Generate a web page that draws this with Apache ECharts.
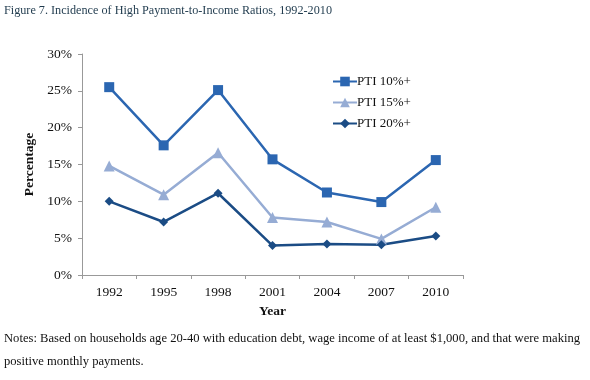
<!DOCTYPE html>
<html><head><meta charset="utf-8">
<script src="https://cdn.jsdelivr.net/npm/echarts@6/dist/echarts.min.js"></script>
<style>html,body{margin:0;padding:0;background:#fff;}#c{width:590px;height:380px;}</style>
</head><body><div id="c"></div>
<script>
const years = ['1992','1995','1998','2001','2004','2007','2010'];
const pti10 = [25.5, 17.6, 25.1, 15.7, 11.2, 9.9, 15.6];
const pti15 = [14.8, 10.9, 16.6, 7.8, 7.2, 4.9, 9.2];
const pti20 = [10.0, 7.2, 11.1, 4.0, 4.2, 4.1, 5.3];
const seriesNames = ['PTI 10%+', 'PTI 15%+', 'PTI 20%+'];
const yTicks = [0, 5, 10, 15, 20, 25, 30];

const FONT = '"Liberation Serif", "Times New Roman", serif';
const colors = ['#2b66b1', '#96acd4', '#1b4c85'];
const chart = echarts.init(document.getElementById('c'), null, {renderer: 'canvas'});
chart.setOption({
  animation: false,
  textStyle: {fontFamily: FONT},
  graphic: [
    {type: 'text', left: 4, top: 5, style: {text: 'Figure 7. Incidence of High Payment-to-Income Ratios, 1992-2010', fill: '#1f3a4d', font: '12.2px ' + FONT}},
    {type: 'text', left: 4, top: 332, style: {text: 'Notes: Based on households age 20-40 with education debt, wage income of at least $1,000, and that were making', fill: '#111', font: '12.6px ' + FONT}},
    {type: 'text', left: 4, top: 355, style: {text: 'positive monthly payments.', fill: '#111', font: '12.6px ' + FONT}}
  ],
  grid: {left: 82, top: 54, width: 381, height: 221},
  legend: {
    orient: 'vertical', left: 327, top: 70, itemWidth: 24, itemHeight: 12, itemGap: 8,
    data: seriesNames,
    textStyle: {fontFamily: FONT, fontSize: 13, color: '#111', padding: [0, 0, 0, -5]}
  },
  xAxis: {
    type: 'category', data: years, boundaryGap: true,
    name: 'Year', nameLocation: 'middle', nameGap: 30,
    nameTextStyle: {fontFamily: FONT, fontSize: 13.5, fontWeight: 'bold', color: '#111'},
    axisLine: {lineStyle: {color: '#999', width: 1}},
    axisTick: {show: true, length: 4, lineStyle: {color: '#999'}},
    axisLabel: {fontFamily: FONT, fontSize: 13.5, color: '#111', margin: 10}
  },
  yAxis: {
    type: 'value', min: yTicks[0], max: yTicks[yTicks.length - 1], interval: 5,
    name: 'Percentage', nameLocation: 'middle', nameGap: 45, nameRotate: 90,
    nameTextStyle: {fontFamily: FONT, fontSize: 13.5, fontWeight: 'bold', color: '#111'},
    axisLine: {show: true, lineStyle: {color: '#999', width: 1}},
    axisTick: {show: true, length: 4, lineStyle: {color: '#999'}},
    splitLine: {show: false},
    axisLabel: {fontFamily: FONT, fontSize: 13.5, color: '#111', margin: 10, formatter: v => v + '%'}
  },
  series: [
    {name: seriesNames[0], type: 'line', data: pti10, symbol: 'rect', symbolSize: 10,
     lineStyle: {width: 2.5, color: colors[0]}, itemStyle: {color: colors[0]}},
    {name: seriesNames[1], type: 'line', data: pti15, symbol: 'triangle', symbolSize: 11,
     lineStyle: {width: 2.5, color: colors[1]}, itemStyle: {color: colors[1]}},
    {name: seriesNames[2], type: 'line', data: pti20, symbol: 'diamond', symbolSize: 9,
     lineStyle: {width: 2.5, color: colors[2]}, itemStyle: {color: colors[2]}}
  ]
});
</script></body></html>
